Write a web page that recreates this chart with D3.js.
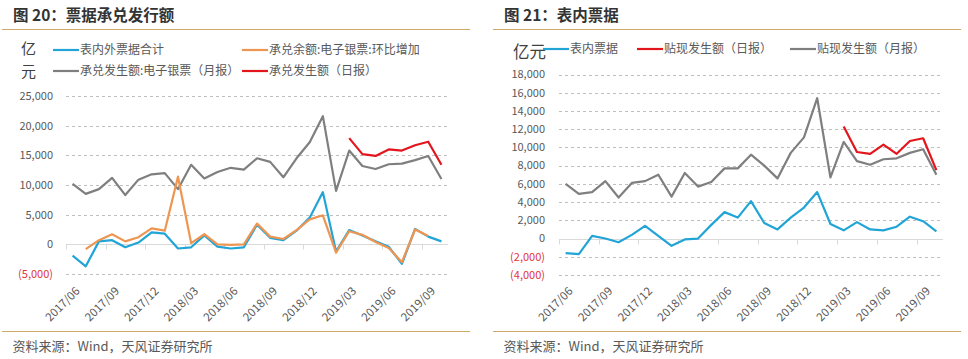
<!DOCTYPE html>
<html><head><meta charset="utf-8">
<script src="https://cdn.jsdelivr.net/npm/d3@7"></script>
<style>
body{margin:0;background:#fff;}
svg{display:block;font-family:"Noto Sans CJK SC","Noto Sans",sans-serif;}
</style></head>
<body><svg id="c" width="968" height="359"></svg>
<script>
// ---------- data ----------
const months = ["2017/06","2017/07","2017/08","2017/09","2017/10","2017/11","2017/12","2018/01","2018/02","2018/03","2018/04","2018/05","2018/06","2018/07","2018/08","2018/09","2018/10","2018/11","2018/12","2019/01","2019/02","2019/03","2019/04","2019/05","2019/06","2019/07","2019/08","2019/09","2019/10"];

// Fig 20
const totalBills = [-1900,-3700,500,700,-500,300,2000,1800,-700,-500,1500,-400,-700,-500,3300,1100,700,2300,4500,8800,-1200,2400,1500,500,-400,-3300,2600,1300,500];
const accBalanceChg = [null,-800,700,1700,500,1200,2700,2300,11400,200,1700,0,-100,0,3500,1300,900,2400,4200,4900,-1400,2200,1600,400,-600,-3000,2500,1400,null];
const accMonthly = [10200,8500,9300,11200,8300,10900,11800,12000,9300,13400,11100,12200,12900,12600,14500,13900,11300,14500,17200,21600,9000,15800,13200,12700,13500,13600,14200,14900,11000];
const accDaily = [null,null,null,null,null,null,null,null,null,null,null,null,null,null,null,null,null,null,null,null,null,17900,15200,14900,16000,15800,16700,17300,13400];
const ticks20 = [-5000,0,5000,10000,15000,20000,25000];

// Fig 21
const onBalance = [-1600,-1700,300,0,-400,400,1400,300,-800,-100,0,1500,2900,2300,4100,1700,1000,2300,3400,5100,1600,900,1800,1000,900,1300,2400,1900,800];
const discDaily = [null,null,null,null,null,null,null,null,null,null,null,null,null,null,null,null,null,null,null,null,null,12300,9500,9300,10300,9300,10700,11000,7500];
const discMonthly = [6000,4900,5100,6300,4500,6100,6300,7000,4600,7200,5700,6200,7700,7700,9200,8000,6600,9400,11100,15400,6700,10600,8500,8100,8700,8800,9400,9800,7000];
const ticks21 = [-4000,-2000,0,2000,4000,6000,8000,10000,12000,14000,16000,18000];

const C = {blue:"#22a5d6", orange:"#ee9552", gray:"#7f7f7f", red:"#e3151d", gold:"#cfa968", label:"#595959", neg:"#e0353d", grid:"#bfbfbf", axis:"#d9d9d9"};

const svg = d3.select("#c");
const fmt = v => v < 0 ? "(" + d3.format(",")(-v) + ")" : d3.format(",")(v);

function panel(o){
  const g = svg.append("g");
  // title and rules
  g.append("text").attr("x",o.left+11).attr("y",21).attr("font-size",15.5).attr("font-weight","bold").attr("fill","#333").text(o.title);
  g.append("line").attr("x1",o.left).attr("x2",o.left+468).attr("y1",29.5).attr("y2",29.5).attr("stroke",C.gold).attr("stroke-width",1);
  g.append("line").attr("x1",o.left).attr("x2",o.left+468).attr("y1",331.5).attr("y2",331.5).attr("stroke",C.gold).attr("stroke-width",1);
  g.append("text").attr("x",o.left+10.5).attr("y",351).attr("font-size",13).attr("fill","#595959").text("资料来源：Wind，天风证券研究所");

  const x = d3.scaleBand().domain(months).range([o.x0,o.x1]).paddingInner(0).paddingOuter(0);
  const y = d3.scaleLinear().domain(o.domain).range(o.yr);
  const cx = d => x(d) + x.bandwidth()/2;

  // gridlines
  g.append("g").selectAll("line").data(o.ticks.filter(t=>t!==0)).join("line")
    .attr("x1",o.x0).attr("x2",o.x1).attr("y1",d=>Math.round(y(d))+0.5).attr("y2",d=>Math.round(y(d))+0.5)
    .attr("stroke",C.grid).attr("stroke-dasharray","3,3").attr("stroke-width",1);
  // y labels
  g.append("g").selectAll("text").data(o.ticks).join("text")
    .attr("x",o.ylx).attr("y",d=>y(d)).attr("dy","0.35em").attr("text-anchor","end")
    .attr("font-size",11).attr("fill",d=>d<0?C.neg:C.label).text(fmt);
  // zero axis with ticks every 3 categories
  const y0 = Math.round(y(0))+0.5;
  g.append("line").attr("x1",o.x0).attr("x2",o.x1).attr("y1",y0).attr("y2",y0).attr("stroke",C.axis).attr("stroke-width",1);
  const bnd = d3.range(0, months.length+1, 3);
  g.append("g").selectAll("line").data(bnd).join("line")
    .attr("x1",i=>Math.round(o.x0 + i*x.step())+0.5).attr("x2",i=>Math.round(o.x0 + i*x.step())+0.5)
    .attr("y1",y0).attr("y2",y0+5).attr("stroke",C.axis);
  // x labels
  g.append("g").selectAll("text").data(months.filter((m,i)=>i%3===0)).join("text")
    .attr("transform",d=>`translate(${cx(d)+5},${o.xly}) rotate(-45)`)
    .attr("text-anchor","end").attr("dy","0.35em").attr("font-size",11.5).attr("fill",C.label).text(d=>d);

  // lines
  const line = d3.line().defined(d=>d[1]!==null).x(d=>cx(d[0])).y(d=>y(d[1]));
  o.series.forEach(s=>{
    g.append("path").datum(months.map((m,i)=>[m,s.values[i]]))
      .attr("d",line).attr("fill","none").attr("stroke",s.color).attr("stroke-width",2.2).attr("stroke-linejoin","round");
  });

  // legend
  o.unit.forEach(u=>g.append("text").attr("x",u.x).attr("y",u.y).attr("font-size",u.fs).attr("fill","#404040").text(u.t));
  o.legend.forEach(l=>{
    g.append("line").attr("x1",l.x).attr("x2",l.x+26).attr("y1",l.y).attr("y2",l.y).attr("stroke",l.color).attr("stroke-width",2.2);
    g.append("text").attr("x",l.x+27).attr("y",l.y).attr("dy","0.36em").attr("font-size",12).attr("fill",C.label).text(l.name);
  });
}

panel({
  left:2, title:"图 20：票据承兑发行额",
  x0:66, x1:448, domain:[-5000,25000], yr:[274,96], ticks:ticks20, ylx:53, xly:289,
  series:[
    {values:accMonthly, color:C.gray},
    {values:accDaily, color:C.red},
    {values:totalBills, color:C.blue},
    {values:accBalanceChg, color:C.orange}
  ],
  unit:[{t:"亿",x:21,y:54,fs:15},{t:"元",x:21,y:77,fs:15}],
  legend:[
    {x:53, y:50, color:C.blue, name:"表内外票据合计"},
    {x:242, y:50, color:C.orange, name:"承兑余额:电子银票:环比增加"},
    {x:53, y:71, color:C.gray, name:"承兑发生额:电子银票（月报）"},
    {x:242, y:71, color:C.red, name:"承兑发生额（日报）"}
  ]
});

panel({
  left:493, title:"图 21：表内票据",
  x0:559, x1:943, domain:[-4000,18000], yr:[275,74.5], ticks:ticks21, ylx:545, xly:289,
  series:[
    {values:discMonthly, color:C.gray},
    {values:discDaily, color:C.red},
    {values:onBalance, color:C.blue}
  ],
  unit:[{t:"亿元",x:513,y:58,fs:16.5}],
  legend:[
    {x:543, y:49, color:C.blue, name:"表内票据"},
    {x:637, y:49, color:C.red, name:"贴现发生额（日报）"},
    {x:790, y:49, color:C.gray, name:"贴现发生额（月报）"}
  ]
});
</script></body></html>
